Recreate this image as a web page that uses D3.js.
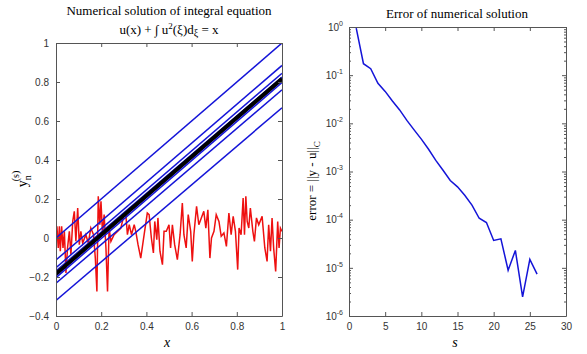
<!DOCTYPE html>
<html>
<head>
<meta charset="utf-8">
<script src="https://cdn.jsdelivr.net/npm/d3@7"></script>
<style>
  body { margin: 0; background: #fff; }
  .tick text { font-family: "Liberation Sans", Arial, sans-serif; font-size: 10px; fill: #333; }
  .tick line, .domain { stroke: #555; }
</style>
</head>
<body>
<div id="chart"></div>
<script>
// red curve: initial guess y0(x)
var redX = [0,0.004,0.010,0.015,0.019,0.025,0.031,0.037,0.044,0.051,0.059,0.066,0.074,0.081,0.088,0.096,0.103,0.110,0.118,0.132,0.143,0.154,0.166,0.174,0.181,0.187,0.194,0.199,0.206,0.213,0.221,0.228,0.235,0.243,0.257,0.272,0.287,0.299,0.309,0.316,0.324,0.334,0.346,0.353,0.363,0.375,0.390,0.404,0.412,0.422,0.431,0.437,0.446,0.451,0.460,0.471,0.478,0.488,0.500,0.507,0.515,0.525,0.537,0.549,0.559,0.566,0.576,0.585,0.596,0.603,0.610,0.622,0.632,0.643,0.654,0.663,0.672,0.681,0.688,0.699,0.709,0.721,0.731,0.743,0.754,0.765,0.775,0.784,0.794,0.804,0.810,0.819,0.828,0.834,0.840,0.846,0.853,0.860,0.871,0.878,0.887,0.897,0.912,0.924,0.934,0.941,0.949,0.956,0.963,0.972,0.981,0.987,0.993,1.000];
var redY = [-0.03,0.060,-0.051,0.060,-0.068,0.060,-0.051,0.034,-0.179,-0.051,0.034,-0.085,0.085,0.137,-0.017,0.154,-0.034,0.034,-0.026,0.017,-0.026,0.051,0.017,-0.103,-0.274,0.214,0.068,0.188,0.017,0.120,-0.051,-0.274,0.051,-0.017,0.017,0.034,0.051,0.111,0.120,0.017,0.068,0.017,0.068,0.034,-0.034,-0.103,0.017,0.128,0.120,0,-0.077,0.085,-0.009,0.103,-0.068,-0.137,0.034,0.034,0.068,-0.051,0.068,-0.034,-0.111,0.017,0.179,0.017,-0.051,0.120,0.034,-0.120,0.017,0.162,0.068,0.103,0.137,0.051,0.145,-0.103,0,0.034,0.120,0.085,0.009,0.026,-0.043,0.128,0.017,0.111,0.034,-0.162,0.051,0.017,0.205,0.017,0.214,0.085,0.051,0.154,0.034,-0.017,0.103,0.068,0.111,-0.051,-0.120,0.068,-0.068,0.103,-0.051,-0.171,0.085,-0.051,0.051,0.034];

// blue iterates y_s(x): value at x=0 and at x=1
var iterStart = [0, -0.32, -0.113, -0.232, -0.152, -0.203, -0.168, -0.192, -0.178, -0.188];
var iterEnd   = [1.0, 0.668, 0.885, 0.760, 0.845, 0.797, 0.826, 0.808, 0.820, 0.812];
// exact solution (thick black)
var exactStart = -0.1835, exactEnd = 0.8165;

// error per iteration
var iterS = [1,2,3,4,5,6,7,8,9,10,11,12,13,14,15,16,17,18,19,20,21,22,23,24,25,26];
var errVal = [0.95,0.173,0.136,0.068,0.046,0.029,0.019,0.0115,0.0073,0.0047,0.0029,0.0017,0.00106,0.00065,0.00048,0.00032,0.0002,0.000107,0.000087,0.000037,0.00004,0.0000089,0.000023,0.0000025,0.000015,0.0000074];

var leftXTicks = [0, 0.2, 0.4, 0.6, 0.8, 1];
var leftYTicks = [-0.4, -0.2, 0, 0.2, 0.4, 0.6, 0.8, 1];
var rightXTicks = [0, 5, 10, 15, 20, 25, 30];
var rightYExp = [0, -1, -2, -3, -4, -5, -6];

var svg = d3.select("#chart").append("svg")
    .attr("width", 587)
    .attr("height", 354);

var serif = "'Liberation Serif', 'Times New Roman', serif";

// ---------- left panel ----------
var xL = d3.scaleLinear().domain([0, 1]).range([56, 282]);
var yL = d3.scaleLinear().domain([-0.4, 1]).range([316, 43]);

svg.append("defs").append("clipPath").attr("id", "clipL")
  .append("rect").attr("x", 56).attr("y", 43).attr("width", 226).attr("height", 273);
svg.select("defs").append("clipPath").attr("id", "clipR")
  .append("rect").attr("x", 349).attr("y", 27).attr("width", 217).attr("height", 289);

var gL = svg.append("g").attr("clip-path", "url(#clipL)");

var redLine = d3.line()
    .x(function(d, i) { return xL(redX[i]); })
    .y(function(d) { return yL(d); });

gL.append("path")
    .datum(redY)
    .attr("d", redLine)
    .attr("fill", "none")
    .attr("stroke", "#ee1010")
    .attr("stroke-width", 1.5);

function seg(a, b) { return [[0, a], [1, b]]; }
var line2 = d3.line().x(function(d) { return xL(d[0]); }).y(function(d) { return yL(d[1]); });

// blue iterates, then the exact solution on top
gL.selectAll("path.iter")
    .data(iterStart)
    .enter().append("path")
    .attr("class", "iter")
    .attr("d", function(d, i) { return line2(seg(d, iterEnd[i])); })
    .attr("fill", "none")
    .attr("stroke", "#1414d8")
    .attr("stroke-width", function(d, i) { return i < 6 ? 1.5 : 1.2; });

gL.append("path")
    .attr("d", line2(seg(exactStart, exactEnd)))
    .attr("fill", "none")
    .attr("stroke", "#000")
    .attr("stroke-width", 4);

// axes (ticks point inward)
svg.append("g").attr("transform", "translate(0,316)")
    .call(d3.axisBottom(xL).tickValues(leftXTicks).tickSizeInner(-4).tickSizeOuter(0).tickPadding(7)
      .tickFormat(function(d) { return d === 0 || d === 1 ? d : d3.format(".1f")(d); }));
svg.append("g").attr("transform", "translate(0,43)")
    .call(d3.axisTop(xL).tickValues(leftXTicks).tickSizeInner(-4).tickSizeOuter(0).tickFormat(""));
svg.append("g").attr("transform", "translate(56,0)")
    .call(d3.axisLeft(yL).tickValues(leftYTicks).tickSizeInner(-4).tickSizeOuter(0).tickPadding(7)
      .tickFormat(function(d) { return d === 0 || d === 1 ? d : d3.format(".1f")(d); }));
svg.append("g").attr("transform", "translate(282,0)")
    .call(d3.axisRight(yL).tickValues(leftYTicks).tickSizeInner(-4).tickSizeOuter(0).tickFormat(""));

// titles
svg.append("text")
    .attr("x", 169).attr("y", 15)
    .attr("text-anchor", "middle")
    .style("font-family", serif).style("font-size", "13px")
    .text("Numerical solution of integral equation");

var eq = svg.append("text")
    .attr("x", 169).attr("y", 34)
    .attr("text-anchor", "middle")
    .style("font-family", serif).style("font-size", "13px");
eq.append("tspan").text("u(x) + \u222B u");
eq.append("tspan").attr("dy", -5).style("font-size", "9px").text("2");
eq.append("tspan").attr("dy", 5).text("(\u03BE)d");
eq.append("tspan").attr("dy", 2).style("font-size", "10px").text("\u03BE");
eq.append("tspan").attr("dy", -2).text(" = x");

var yLab = svg.append("text")
    .attr("transform", "translate(27,179) rotate(-90)")
    .attr("text-anchor", "middle")
    .style("font-family", serif).style("font-size", "14px");
yLab.append("tspan").text("y");
yLab.append("tspan").attr("dy", 4).style("font-size", "10px").text("n");
yLab.append("tspan").attr("dx", -6).attr("dy", -12).style("font-size", "10px").text("(s)");

svg.append("text")
    .attr("x", 167).attr("y", 347)
    .attr("text-anchor", "middle")
    .style("font-family", serif).style("font-style", "italic").style("font-size", "14px")
    .text("x");

// ---------- right panel ----------
var xR = d3.scaleLinear().domain([0, 30]).range([349, 566]);
var yR = d3.scaleLog().domain([1e-6, 1]).range([316, 27]);

svg.append("g").attr("clip-path", "url(#clipR)")
  .append("path")
    .datum(errVal)
    .attr("d", d3.line()
      .x(function(d, i) { return xR(iterS[i]); })
      .y(function(d) { return yR(d); }))
    .attr("fill", "none")
    .attr("stroke", "#1414d8")
    .attr("stroke-width", 1.5);

svg.append("g").attr("transform", "translate(0,316)")
    .call(d3.axisBottom(xR).tickValues(rightXTicks).tickSizeInner(-4).tickSizeOuter(0).tickPadding(7));
svg.append("g").attr("transform", "translate(0,27)")
    .call(d3.axisTop(xR).tickValues(rightXTicks).tickSizeInner(-4).tickSizeOuter(0).tickFormat(""));

var majorY = rightYExp.map(function(e) { return Math.pow(10, e); });
var minorY = [];
rightYExp.slice(1).forEach(function(e) {
  for (var k = 2; k <= 9; k++) minorY.push(k * Math.pow(10, e));
});

var axL = svg.append("g").attr("transform", "translate(349,0)")
    .call(d3.axisLeft(yR).tickValues(majorY).tickSizeInner(-4).tickSizeOuter(0).tickPadding(6).tickFormat(""));
svg.append("g").attr("transform", "translate(566,0)")
    .call(d3.axisRight(yR).tickValues(majorY).tickSizeInner(-4).tickSizeOuter(0).tickFormat(""));
svg.append("g").attr("transform", "translate(349,0)")
    .call(d3.axisLeft(yR).tickValues(minorY).tickSizeInner(-2).tickSizeOuter(0).tickFormat(""))
    .select(".domain").remove();
svg.append("g").attr("transform", "translate(566,0)")
    .call(d3.axisRight(yR).tickValues(minorY).tickSizeInner(-2).tickSizeOuter(0).tickFormat(""))
    .select(".domain").remove();

// 10^k labels with superscripts
axL.selectAll(".tick").each(function(d) {
  var t = d3.select(this).select("text").attr("x", -6);
  t.text(null);
  t.append("tspan").text("10");
  t.append("tspan").attr("dy", -5).style("font-size", "7px").text(Math.round(Math.log10(d)));
});

svg.append("text")
    .attr("x", 457).attr("y", 18)
    .attr("text-anchor", "middle")
    .style("font-family", serif).style("font-size", "13px")
    .text("Error of numerical solution");

var eLab = svg.append("text")
    .attr("transform", "translate(316,181) rotate(-90)")
    .attr("text-anchor", "middle")
    .style("font-family", serif).style("font-size", "13px");
eLab.append("tspan").text("error = ||y - u||");
eLab.append("tspan").attr("dy", 4).style("font-size", "9px").text("C");

svg.append("text")
    .attr("x", 455).attr("y", 347)
    .attr("text-anchor", "middle")
    .style("font-family", serif).style("font-style", "italic").style("font-size", "14px")
    .text("s");
</script>
</body>
</html>
